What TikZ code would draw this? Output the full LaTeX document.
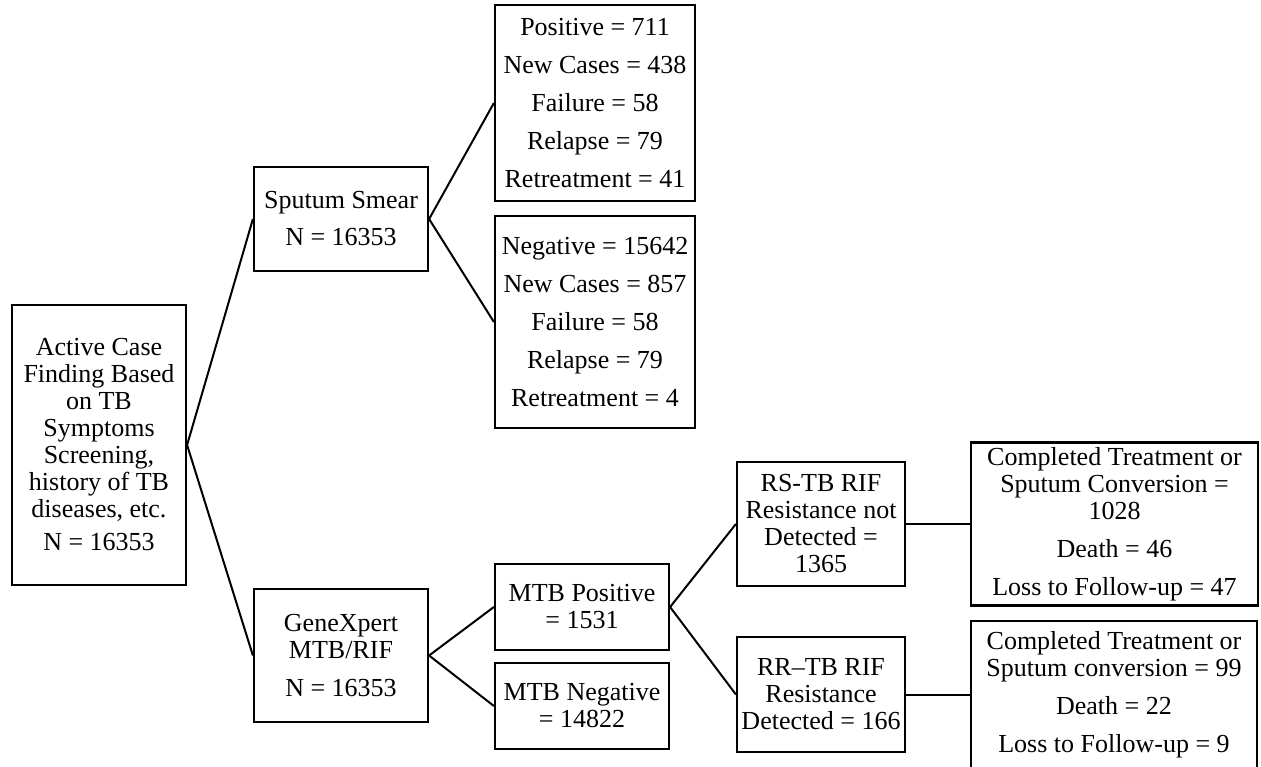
\documentclass[tikz,border=0pt]{standalone}
\usepackage{fontspec}
\setmainfont{Liberation Serif}
\begin{document}
\begin{tikzpicture}[x=1pt,y=-1pt,
  box/.style={draw, line width=2.2pt, align=center, inner sep=0pt, font=\fontsize{26}{27}\selectfont},
  link/.style={line width=2pt}]
\useasboundingbox (0,0) rectangle (1261,767);
\node[box, minimum width=174pt, minimum height=280pt] (A) at (99,445)
  {Active Case\\Finding Based\\on TB\\Symptoms\\Screening,\\history of TB\\diseases, etc.\\[6pt]N = 16353};
\node[box, minimum width=174pt, minimum height=104pt] (B) at (341,219)
  {Sputum Smear\\[10pt]N = 16353};
\node[box, minimum width=200pt, minimum height=196pt] (C) at (595,103)
  {Positive = 711\\[11pt]New Cases = 438\\[11pt]Failure = 58\\[11pt]Relapse = 79\\[11pt]Retreatment = 41};
\node[box, minimum width=200pt, minimum height=212pt] (D) at (595,322)
  {Negative = 15642\\[11pt]New Cases = 857\\[11pt]Failure = 58\\[11pt]Relapse = 79\\[11pt]Retreatment = 4};
\node[box, minimum width=174pt, minimum height=133pt] (E) at (341,655.5)
  {GeneXpert\\MTB/RIF\\[11pt]N = 16353};
\node[box, minimum width=174pt, minimum height=86pt] (F) at (582,607)
  {MTB Positive\\= 1531};
\node[box, minimum width=174pt, minimum height=86pt] (G) at (582,706)
  {MTB Negative\\= 14822};
\node[box, minimum width=168pt, minimum height=124pt] (H) at (821,524)
  {RS-TB RIF\\Resistance not\\Detected =\\1365};
\node[box, minimum width=168pt, minimum height=115pt] (I) at (821,694.5)
  {RR--TB RIF\\Resistance\\Detected = 166};
\node[box, minimum width=287pt, minimum height=163pt] (J) at (1114.5,524)
  {Completed Treatment or\\Sputum Conversion =\\1028\\[11pt]Death = 46\\[11pt]Loss to Follow-up = 47};
\node[box, minimum width=286pt, minimum height=147pt] (K) at (1114,694.5)
  {Completed Treatment or\\Sputum conversion = 99\\[11pt]Death = 22\\[11pt]Loss to Follow-up = 9};
\draw[link] (A.east) -- (B.west);
\draw[link] (A.east) -- (E.west);
\draw[link] (B.east) -- (C.west);
\draw[link] (B.east) -- (D.west);
\draw[link] (E.east) -- (F.west);
\draw[link] (E.east) -- (G.west);
\draw[link] (F.east) -- (H.west);
\draw[link] (F.east) -- (I.west);
\draw[link] (H.east) -- (J.west);
\draw[link] (I.east) -- (K.west);
\end{tikzpicture}
\end{document}
